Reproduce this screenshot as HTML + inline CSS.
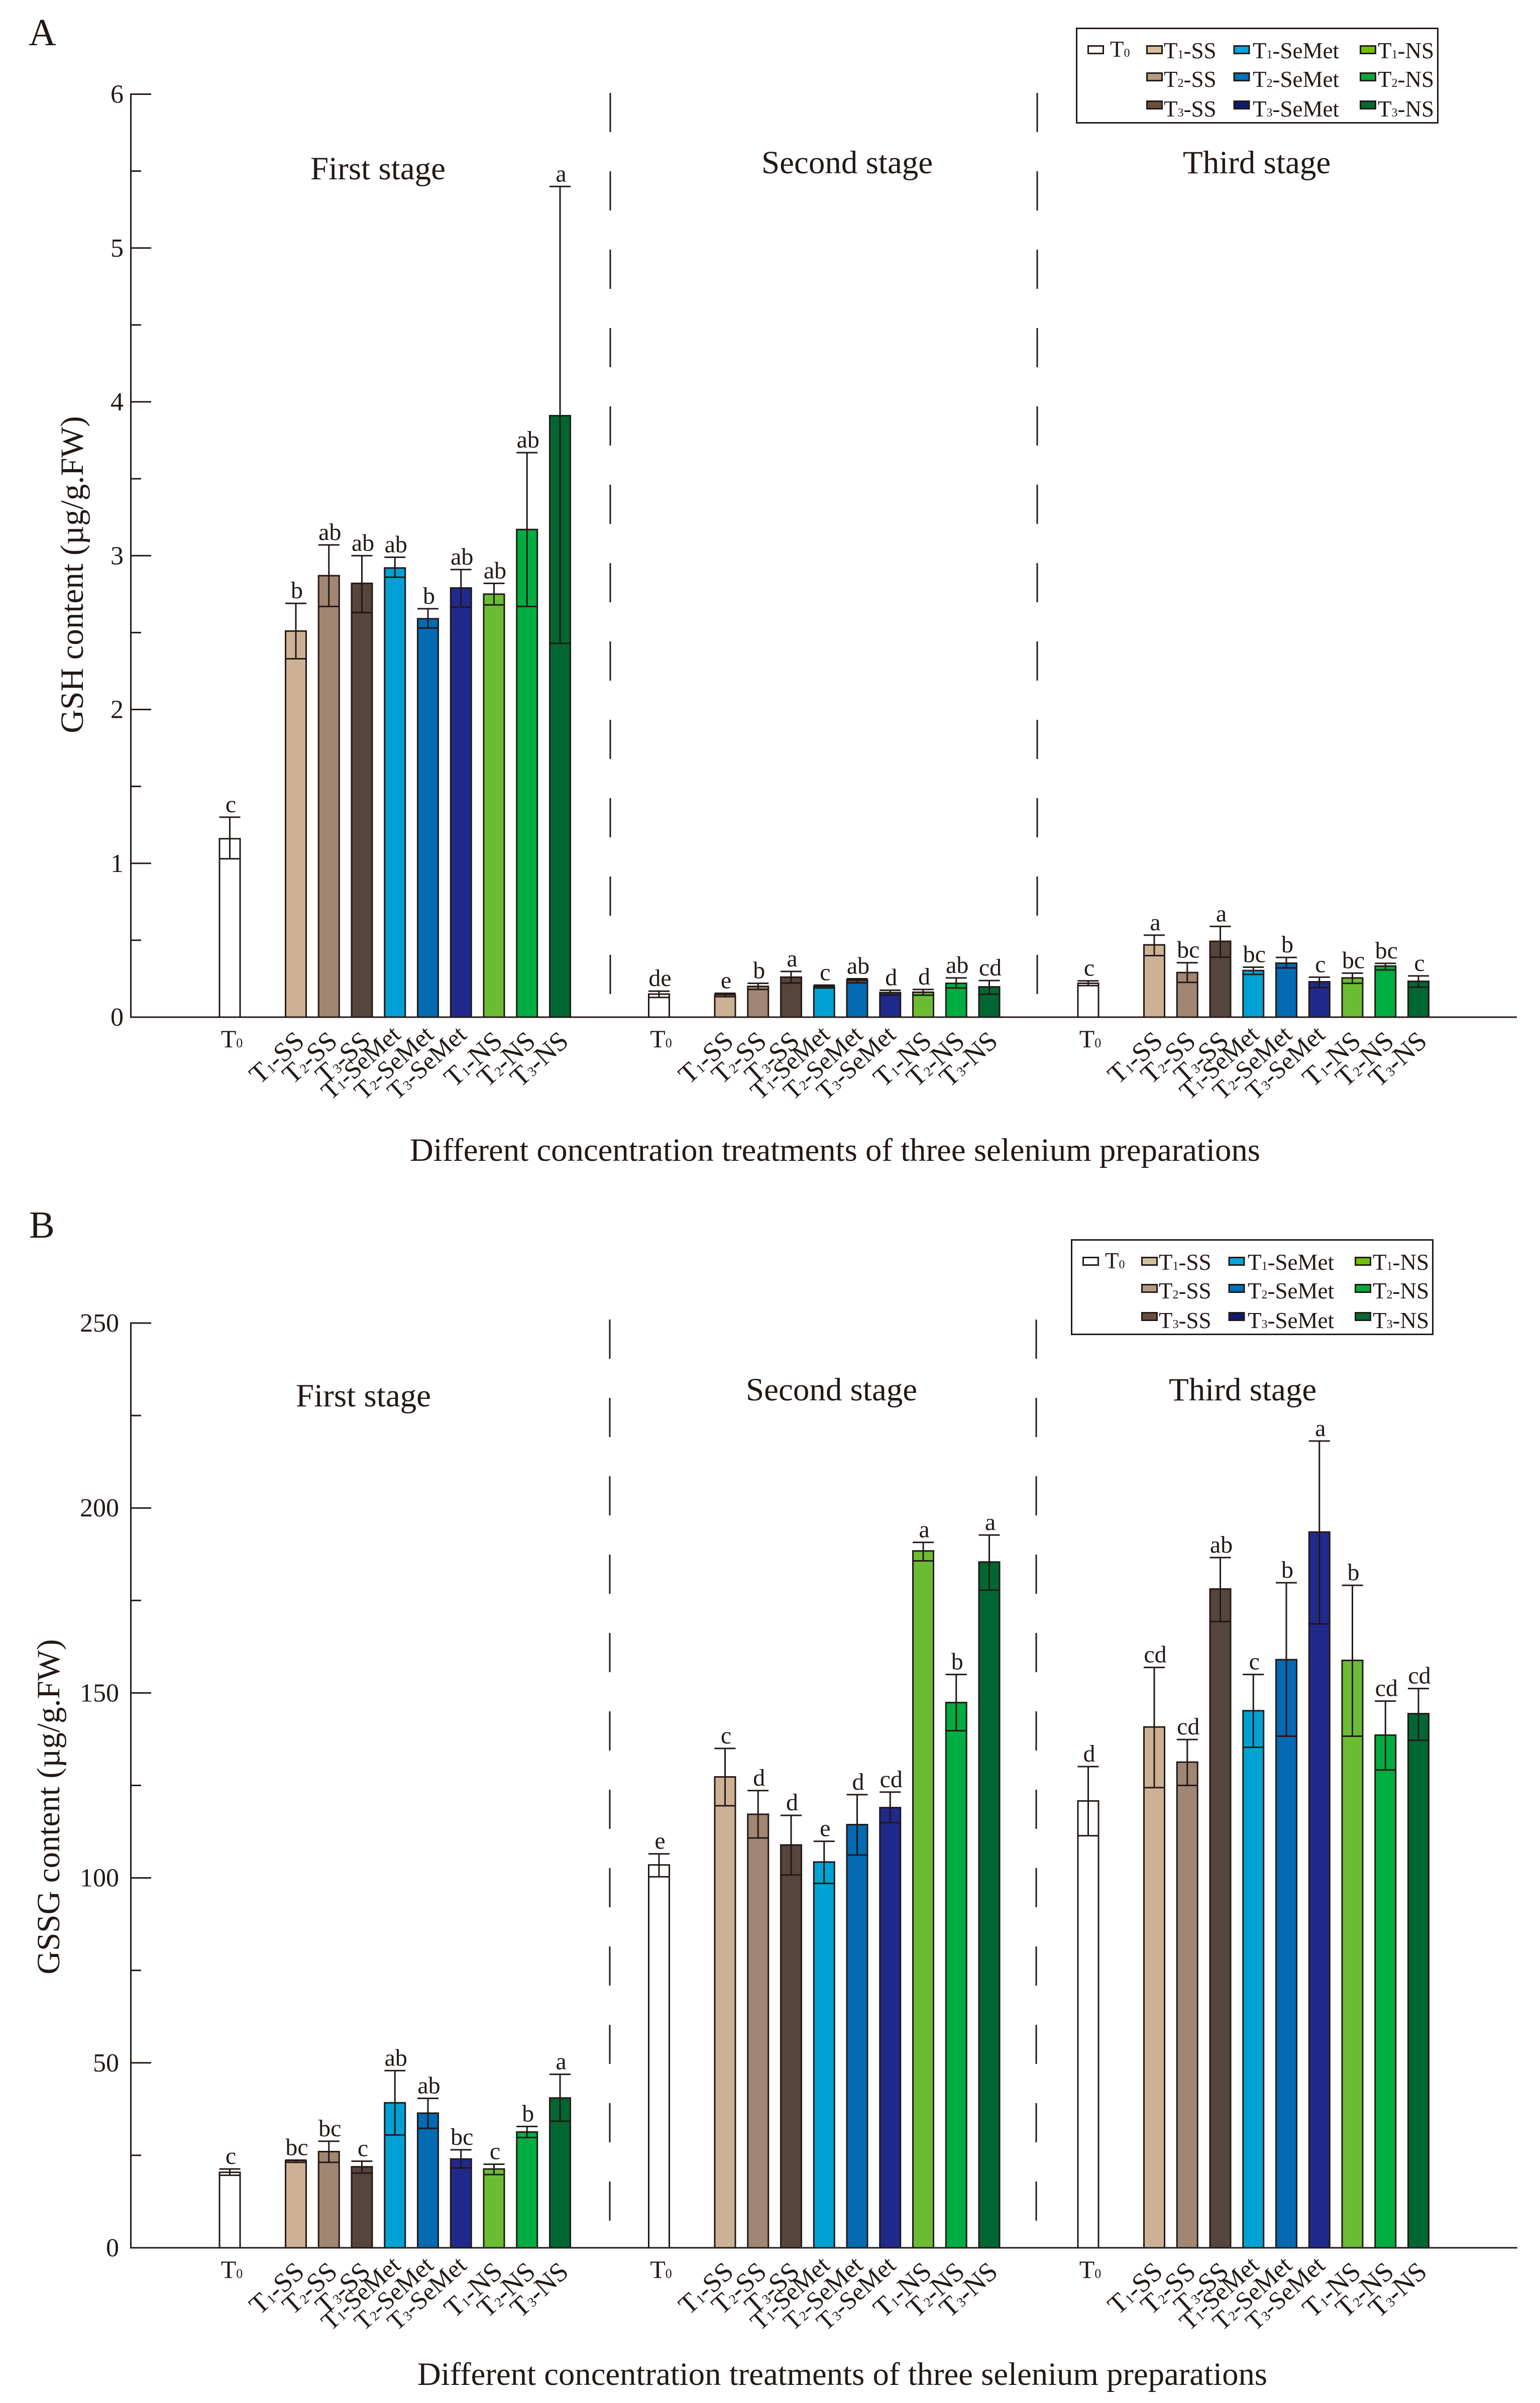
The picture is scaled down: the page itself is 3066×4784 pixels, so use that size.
<!DOCTYPE html>
<html lang="en">
<head>
<meta charset="utf-8">
<title>GSH and GSSG content under three selenium preparations</title>
<style>
html,body{margin:0;padding:0;background:#fff;}
svg{display:block;}
text{font-family:"Liberation Serif","Times New Roman",serif;fill:#231815;}
</style>
</head>
<body>
<svg id="chart" xmlns="http://www.w3.org/2000/svg" width="3066" height="4784" viewBox="0 0 3066 4784">
<rect x="0" y="0" width="3066" height="4784" fill="#ffffff"/>
<text x="57" y="90" font-size="76">A</text>
<text x="58" y="2464" font-size="76">B</text>
</svg>
<script>
// Categories shared by all stages
const categories = ["T0","T1-SS","T2-SS","T3-SS","T1-SeMet","T2-SeMet","T3-SeMet","T1-NS","T2-NS","T3-NS"];
const stageNames = ["First stage","Second stage","Third stage"];

// Panel A: GSH content
const gshTicks = [0,1,2,3,4,5,6];
const gshFirstMeans  = [1.16,2.51,2.87,2.82,2.92,2.59,2.79,2.75,3.17,3.91];
const gshFirstHigh   = [1.30,2.69,3.07,3.00,2.99,2.655,2.91,2.82,3.67,5.40];
const gshFirstLow    = [1.03,2.33,2.67,2.63,2.86,2.53,2.665,2.68,2.67,2.43];
const gshFirstLetters = ["c","b","ab","ab","ab","b","ab","ab","ab","a"];
const gshSecondMeans = [0.15,0.145,0.20,0.26,0.20,0.24,0.16,0.162,0.22,0.197];
const gshSecondHigh  = [0.169,0.155,0.22,0.297,0.208,0.25,0.175,0.18,0.255,0.238];
const gshSecondLow   = [0.128,0.133,0.18,0.222,0.19,0.223,0.143,0.143,0.19,0.149];
const gshSecondLetters = ["de","e","b","a","c","ab","d","d","ab","cd"];
const gshThirdMeans  = [0.22,0.47,0.29,0.493,0.303,0.351,0.23,0.255,0.332,0.233];
const gshThirdHigh   = [0.236,0.533,0.354,0.59,0.325,0.388,0.26,0.286,0.35,0.268];
const gshThirdLow    = [0.205,0.40,0.226,0.39,0.278,0.32,0.192,0.22,0.307,0.195];
const gshThirdLetters = ["c","a","bc","a","bc","b","c","bc","bc","c"];

// Panel B: GSSG content
const gssgTicks = [0,50,100,150,200,250];
const gssgFirstMeans  = [20.4,23.6,26,21.9,39.2,36.4,24,21.3,31.3,40.5];
const gssgFirstHigh   = [21.3,23.7,28.8,23.4,47.9,40.4,26.5,22.6,32.8,46.9];
const gssgFirstLow    = [19.6,23.1,23.1,20.2,30.5,32.3,21.6,19.8,29.8,34.2];
const gssgFirstLetters = ["c","bc","bc","c","ab","ab","bc","c","b","a"];
const gssgSecondMeans = [103.5,127.3,117.2,108.9,104.3,114.4,119,188.4,147.4,185.4];
const gssgSecondHigh  = [106.5,135,123.6,116.9,109.9,122.5,123.2,190.7,155,192.7];
const gssgSecondLow   = [100.3,119.5,110.8,100.8,98.5,106.2,114.9,185.7,139.8,177.8];
const gssgSecondLetters = ["e","c","d","d","e","d","cd","a","b","a"];
const gssgThirdMeans  = [120.8,140.8,131.3,178.1,145.2,159,193.5,158.8,138.6,144.4];
const gssgThirdHigh   = [130.1,156.9,137.4,186.6,155,179.8,218.1,179.1,147.8,151.2];
const gssgThirdLow    = [111.4,124.4,125,169.3,135.3,138.3,168.7,138.3,129.2,137.2];
const gssgThirdLetters = ["d","cd","cd","ab","c","b","a","b","cd","cd"];

// Legend
const legendLabels = ["T1-SS","T2-SS","T3-SS","T1-SeMet","T2-SeMet","T3-SeMet","T1-NS","T2-NS","T3-NS"];

// Styles
const INK = "#231815";
const barFills = ["#ffffff","#ccb195","#a18673","#56453c","#00a2d5","#036ab3","#20298c","#6abd33","#00ad42","#006733"];
const legendFills = ["#d3c09a","#b49a80","#6a4f3f","#00a7e0","#0070bb","#0e1a6b","#70c000","#08a93a","#006a33"];

const svg = document.getElementById("chart");
const NS = "http://www.w3.org/2000/svg";

function slug(s){ return s.toLowerCase().replace(/[^a-z0-9]+/g,"-"); }

function make(tag, attrs){
  const el = document.createElementNS(NS, tag);
  for (const k in attrs) el.setAttribute(k, attrs[k]);
  svg.appendChild(el);
  return el;
}

// Writes "T1-SS" with the digit as a smaller real-text tspan
function fillLabel(el, label, subSize){
  const m = label.match(/^T(\d)(.*)$/);
  el.appendChild(document.createTextNode("T"));
  const sub = document.createElementNS(NS, "tspan");
  sub.setAttribute("font-size", subSize);
  sub.textContent = m[1];
  el.appendChild(sub);
  const rest = document.createElementNS(NS, "tspan");
  rest.textContent = m[2];
  if (m[2]) el.appendChild(rest);
}

// Band position of a category inside a stage
function xScale(stage, cat){
  return 457.5 + 854.5 * stage + (cat === 0 ? 0 : (cat + 1) * 65.75);
}

function drawPanel(p){
  const y = v => p.y0 - (v / p.yMax) * (p.y0 - p.yTop);
  const prefix = p.key;

  // y axis
  const yAxis = make("line",{x1:260.5,x2:260.5,y1:y(p.yMax)-1.5,y2:p.y0+1.5,stroke:INK,"stroke-width":3});
  
  

  // x axis
  const xAxis = make("line",{x1:259,x2:p.xEnd,y1:p.y0,y2:p.y0,stroke:INK,"stroke-width":3});
  
  

  // ticks
  p.ticks.forEach((t, i) => {
    const tick = make("line",{x1:260.5,x2:301,y1:y(t),y2:y(t),stroke:INK,"stroke-width":3});
    
    
    const lab = make("text",{x:p.tickRight,y:y(t)+17,"font-size":52,"text-anchor":"end"});
    
    
    lab.textContent = t;
    if (i < p.ticks.length - 1){
      const mid = (t + p.ticks[i+1]) / 2;
      const minor = make("line",{x1:260.5,x2:281,y1:y(mid),y2:y(mid),stroke:INK,"stroke-width":3});
      
      
    }
  });

  // y title
  const yTitle = make("text",{x:0,y:0,"font-size":65,"text-anchor":"middle",transform:"translate("+p.yTitleX+" "+p.yTitleY+") rotate(-90)"});
  
  
  yTitle.textContent = p.yTitle;

  // x title
  const xTitle = make("text",{x:p.xTitleX,y:p.xTitleY,"font-size":65,textLength:p.xTitleLen,lengthAdjust:"spacingAndGlyphs"});
  
  
  xTitle.textContent = "Different concentration treatments of three selenium preparations";

  // stage dividers
  [p.dashA, p.dashB].forEach((dx, i) => {
    const dash = make("line",{x1:dx,x2:dx,y1:p.dashTop,y2:p.dashTop+1794,stroke:INK,"stroke-width":3,"stroke-dasharray":"78 78"});
    
    
  });

  // stages
  p.stages.forEach((s, si) => {
    const st = make("text",{x:s.labelX,y:s.labelY,"font-size":65});
    
    
    st.textContent = stageNames[si];

    categories.forEach((cat, i) => {
      const cx = xScale(si, i);
      const base = prefix + "-" + slug(stageNames[si]) + "-" + slug(cat);
      const top = y(s.means[i]);

      const bar = make("rect",{x:cx-20.5,y:top,width:41,height:p.y0-top,fill:barFills[i],stroke:INK,"stroke-width":3});
      
      

      const hi = y(s.high[i]), lo = y(s.low[i]);
      const err = make("line",{x1:cx,x2:cx,y1:hi,y2:lo,stroke:INK,"stroke-width":3});
      
      
      const capTop = make("line",{x1:cx-21,x2:cx+21,y1:hi,y2:hi,stroke:INK,"stroke-width":3});
      
      
      const capBot = make("line",{x1:cx-21,x2:cx+21,y1:lo,y2:lo,stroke:INK,"stroke-width":3});
      
      

      const sig = make("text",{x:cx+2,y:Math.min(hi,top)-10,"font-size":48,"text-anchor":"middle"});
      
      
      sig.textContent = s.letters[i];

      if (i === 0){
        const t0 = make("text",{x:cx+4,y:p.y0+60,"font-size":50,"text-anchor":"middle"});
        
        
        fillLabel(t0, cat, 26);
      } else {
        const isSe = cat.indexOf("SeMet") >= 0;
        const ax = cx + (isSe ? 14 : 20), ay = p.y0 + (isSe ? 39 : 52);
        const size = isSe ? 50 : 54;
        const lab = make("text",{x:0,y:0,"font-size":size,"text-anchor":"end",transform:"translate("+ax+" "+ay+") rotate(-42)"});
        
        
        fillLabel(lab, cat, 27);
      }
    });
  });

  // legend
  const dx = p.legendDx, dy = p.legendDy;
  const box = make("rect",{x:2143.5+dx,y:56.5+dy,width:719,height:188,fill:"#ffffff",stroke:INK,"stroke-width":3});
  
  

  const t0Swatch = make("rect",{x:2166.5+dx,y:91.5+dy,width:30,height:15,fill:"#ffffff",stroke:INK,"stroke-width":3});
  
  
  const t0Text = make("text",{x:2210+dx,y:113+dy,"font-size":45});
  
  
  fillLabel(t0Text, "T0", 24);

  const swatchCol = c => c === 0 ? 2283.5 : (c === 1 ? 2457 : 2708.5);
  const textCol   = c => c === 0 ? 2317 : (c === 1 ? 2494 : 2743);
  const swatchRow = r => r === 0 ? 91.5 : (r === 1 ? 145.5 : 201.5);
  const textRow   = r => r === 0 ? 116 : (r === 1 ? 173 : 232);

  legendLabels.forEach((lab, i) => {
    const c = Math.floor(i / 3), r = i % 3;
    const sw = make("rect",{x:swatchCol(c)+dx,y:swatchRow(r)+dy,width:30,height:15,fill:legendFills[i],stroke:INK,"stroke-width":3});
    
    
    const tx = make("text",{x:textCol(c)+dx,y:textRow(r)+dy,"font-size":45});
    
    
    fillLabel(tx, lab, 24);
  });
}

drawPanel({
  key:"gsh", y0:2025, yTop:187.5, yMax:6, ticks:gshTicks, tickRight:246, xEnd:3020,
  yTitle:"GSH content (\u00B5g/g.FW)", yTitleX:165, yTitleY:1144,
  xTitleX:816, xTitleY:2311, xTitleLen:1693,
  dashA:1215, dashB:2065, dashTop:185,
  legendDx:0, legendDy:0,
  stages:[
    {means:gshFirstMeans, high:gshFirstHigh, low:gshFirstLow, letters:gshFirstLetters, labelX:618, labelY:357},
    {means:gshSecondMeans, high:gshSecondHigh, low:gshSecondLow, letters:gshSecondLetters, labelX:1516, labelY:345},
    {means:gshThirdMeans, high:gshThirdHigh, low:gshThirdLow, letters:gshThirdLetters, labelX:2355, labelY:345}
  ]
});

drawPanel({
  key:"gssg", y0:4475, yTop:2634, yMax:250, ticks:gssgTicks, tickRight:237, xEnd:3021,
  yTitle:"GSSG content (\u00B5g/g.FW)", yTitleX:118, yTitleY:3597,
  xTitleX:831, xTitleY:4748, xTitleLen:1692,
  dashA:1214, dashB:2063, dashTop:2627,
  legendDx:-10, legendDy:2412,
  stages:[
    {means:gssgFirstMeans, high:gssgFirstHigh, low:gssgFirstLow, letters:gssgFirstLetters, labelX:589, labelY:2800},
    {means:gssgSecondMeans, high:gssgSecondHigh, low:gssgSecondLow, letters:gssgSecondLetters, labelX:1485, labelY:2788},
    {means:gssgThirdMeans, high:gssgThirdHigh, low:gssgThirdLow, letters:gssgThirdLetters, labelX:2327, labelY:2788}
  ]
});
</script>
</body>
</html>
